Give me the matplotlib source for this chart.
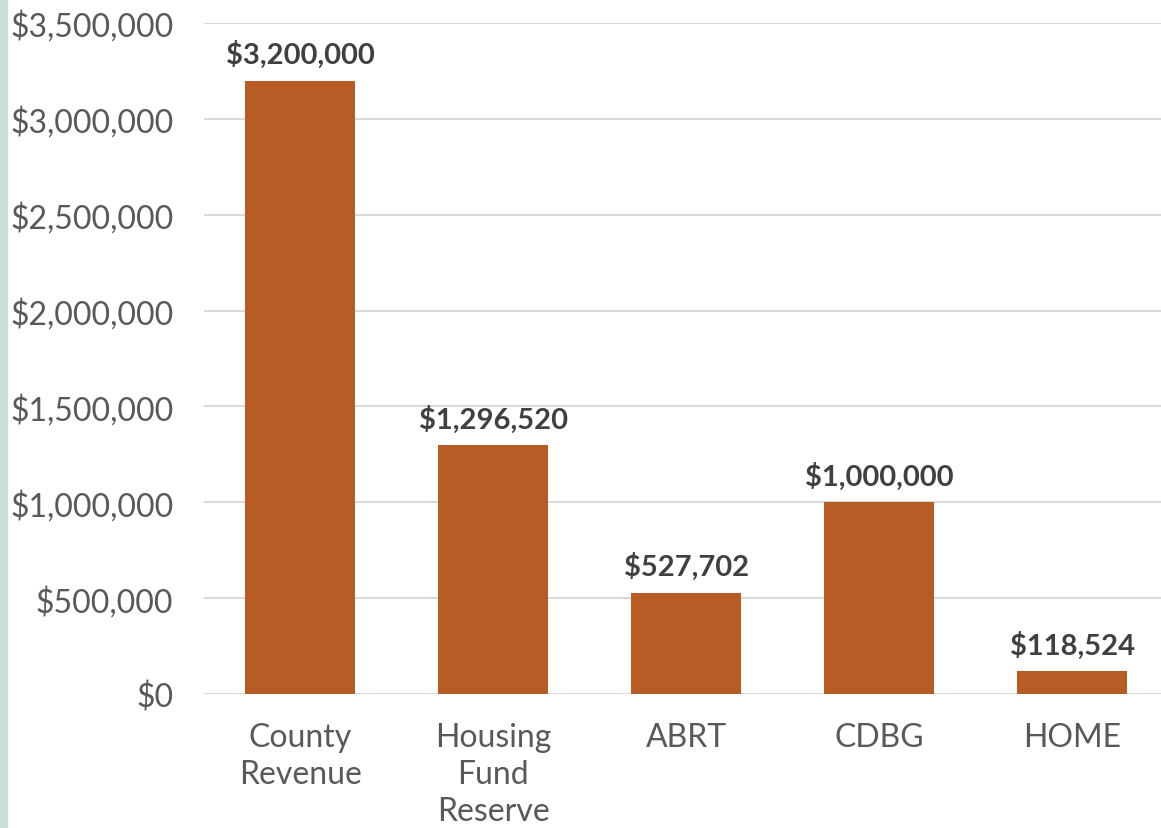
import matplotlib.pyplot as plt
from matplotlib.patches import Rectangle
from matplotlib.ticker import FuncFormatter

# Data
categories = ["County\nRevenue", "Housing\nFund\nReserve", "ABRT", "CDBG", "HOME"]
amounts = [3200000, 1296520, 527702, 1000000, 118524]
y_ticks = [0, 500000, 1000000, 1500000, 2000000, 2500000, 3000000, 3500000]

plt.rcParams['font.family'] = ['Lato', 'DejaVu Sans']

fig = plt.figure(figsize=(11.61, 8.29), dpi=100)
ax = fig.add_axes([204 / 1161, 134 / 829, (1161 - 204) / 1161, 671 / 829])

# light strip on the left edge
fig.patches.append(Rectangle((0, 0), 7 / 1161, 1, transform=fig.transFigure,
                             color="#C9DDD9", zorder=0))

x = range(len(categories))
bars = ax.bar(x, amounts, width=0.57, color="#B85C25", zorder=3)

for b, v in zip(bars, amounts):
    ax.annotate(f"${v:,.0f}", (b.get_x() + b.get_width() / 2, v),
                xytext=(0, 9), textcoords="offset points",
                ha="center", va="bottom", fontsize=21, fontweight="bold",
                color="#404040")

ax.set_xlim(-0.5, 4.46)
ax.set_ylim(0, 3500000)
ax.set_yticks(y_ticks)
ax.yaxis.set_major_formatter(FuncFormatter(lambda v, p: f"${v:,.0f}"))
ax.set_xticks(list(x))
ax.set_xticklabels(categories, linespacing=1.3)

ax.tick_params(axis="y", length=0, pad=22, labelsize=23, labelcolor="#595959")
ax.tick_params(axis="x", length=0, pad=20, labelsize=23, labelcolor="#595959")

ax.grid(axis="y", color="#D9D9D9", linewidth=1.5, zorder=0)
ax.set_axisbelow(True)
for s in ax.spines.values():
    s.set_visible(False)

fig.savefig("out.png", dpi=100)
